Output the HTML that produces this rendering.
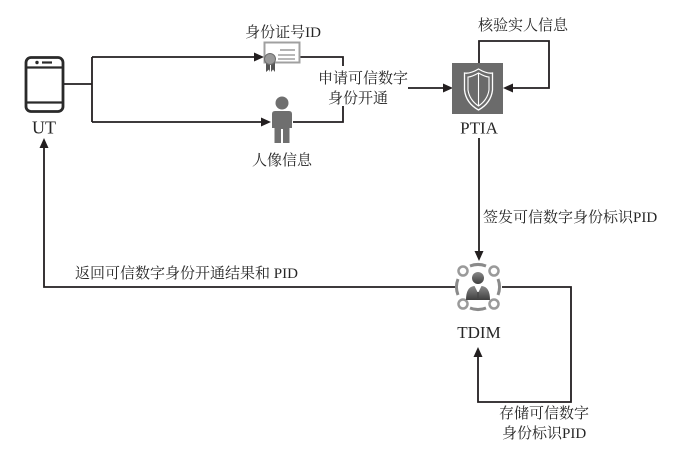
<!DOCTYPE html>
<html><head><meta charset="utf-8">
<style>
html,body{margin:0;padding:0;background:#fff;}
svg{display:block;}
text{font-family:"Liberation Serif","Noto Serif CJK SC","Noto Sans CJK SC",serif;fill:#262626;}
</style></head>
<body>
<svg width="687" height="455" viewBox="0 0 687 455" xmlns="http://www.w3.org/2000/svg">
<defs>
<linearGradient id="pg" x1="0" y1="0" x2="0" y2="1">
<stop offset="0" stop-color="#8a8a8a"/><stop offset="1" stop-color="#3e3e3e"/>
</linearGradient>
</defs>
<g fill="none" stroke="#231f20" stroke-width="1.8">
<polyline points="63,84 92,84"/>
<polyline points="92,57 92,122"/>
<polyline points="92,57 255,57"/>
<polyline points="92,122 262,122"/>
<polyline points="300,57 343,57 343,66"/>
<polyline points="293,122 343,122 343,106"/>
<polyline points="408,88 444,88"/>
<polyline points="479,63 479,41 549,41 549,88 511,88"/>
<polyline points="479,138 479,252"/>
<polyline points="455,287 44,287 44,146"/>
<polyline points="502,287 571,287 571,402 478,402 478,356"/>
</g>
<g fill="#231f20">
<polygon points="264,57 254,52.5 254,61.5"/>
<polygon points="271,122 261,117.5 261,126.5"/>
<polygon points="453,88 443,83.5 443,92.5"/>
<polygon points="503,88 513,83.5 513,92.5"/>
<polygon points="479,261 474.5,251 483.5,251"/>
<polygon points="44,138 39.5,148 48.5,148"/>
<polygon points="478,347 473.5,357 482.5,357"/>
</g>

<!-- phone -->
<rect x="26" y="57.5" width="37" height="54" rx="5" fill="none" stroke="#2a2a2a" stroke-width="2.8"/>
<line x1="26" y1="67.5" x2="63" y2="67.5" stroke="#2a2a2a" stroke-width="2.2"/>
<line x1="26" y1="102.5" x2="63" y2="102.5" stroke="#2a2a2a" stroke-width="2.2"/>
<circle cx="37" cy="62.5" r="1.7" fill="#2a2a2a"/>
<line x1="42" y1="62.5" x2="52" y2="62.5" stroke="#2a2a2a" stroke-width="2.2"/>

<!-- certificate -->
<rect x="264.5" y="42.5" width="35" height="20" fill="#fff" stroke="#a0a0a0" stroke-width="2"/>
<line x1="280" y1="50" x2="295" y2="50" stroke="#a0a0a0" stroke-width="1.6"/>
<line x1="278" y1="55" x2="295" y2="55" stroke="#a0a0a0" stroke-width="1.6"/>
<line x1="278" y1="59" x2="295" y2="59" stroke="#a0a0a0" stroke-width="1.6"/>
<polygon points="266,62 266,72 269,69.5 270,72 270,62" fill="#555"/>
<polygon points="271,62 271,72 273,69.5 275,72 275,62" fill="#555"/>
<circle cx="270" cy="59" r="5.5" fill="#999" stroke="#6e6e6e" stroke-width="1"/>

<!-- person -->
<circle cx="282" cy="103" r="6.5" fill="#6f6f6f"/>
<path d="M272,114 Q272,111 275,111 L289,111 Q292,111 292,114 L292,128 L289.5,128 L289.5,143 L283,143 L283,129 L281,129 L281,143 L274.5,143 L274.5,128 L272,128 Z" fill="#6f6f6f"/>

<!-- PTIA box -->
<rect x="452" y="63" width="51" height="51" fill="#6b6b6b"/>
<path d="M478.5,69 Q470,74 464.5,73 L464.5,90 Q466,103 478.5,110 Q491,103 492.5,90 L492.5,73 Q487,74 478.5,69 Z" fill="none" stroke="#fff" stroke-width="1.3"/>
<path d="M478.5,73 Q471.5,77 468,77 L468,90 Q469.5,100 478.5,106 Q487.5,100 489,90 L489,77 Q485.5,77 478.5,73 Z" fill="none" stroke="#fff" stroke-width="1.1"/>
<line x1="478.5" y1="73" x2="478.5" y2="106" stroke="#fff" stroke-width="1.1"/>

<!-- TDIM icon -->
<g fill="none" stroke="#8a8a8a" stroke-width="3">
<path d="M458,279 A22,22 0 0 0 458,295"/>
<path d="M498,279 A22,22 0 0 1 498,295"/>
<path d="M470,266 A22,22 0 0 1 486,266"/>
<path d="M470,308 A22,22 0 0 0 486,308"/>
</g>
<g fill="#fff" stroke="#9a9a9a" stroke-width="2.5">
<circle cx="463" cy="271" r="4.5"/>
<circle cx="494" cy="271" r="4.5"/>
<circle cx="463" cy="304" r="4.5"/>
<circle cx="494" cy="304" r="4.5"/>
</g>
<circle cx="478" cy="278" r="6" fill="url(#pg)"/>
<path d="M466,300 Q466,287 474,286 L482,286 Q490,287 490,300 Z" fill="url(#pg)"/>
<path d="M474.5,286 L478,293 L481.5,286 Z" fill="#fff"/>
<line x1="478" y1="292" x2="478" y2="298" stroke="#444" stroke-width="1.2"/>

<!-- labels -->
<text x="44" y="133.5" font-size="18" text-anchor="middle">UT</text>
<text x="479" y="133.5" font-size="17" text-anchor="middle">PTIA</text>
<text x="479" y="338" font-size="17" text-anchor="middle">TDIM</text>

<text x="283" y="37" font-size="15" text-anchor="middle">身份证号ID</text>
<text x="282" y="165" font-size="15" text-anchor="middle">人像信息</text>
<text x="318" y="83" font-size="15">申请可信数字</text>
<text x="328" y="103" font-size="15">身份开通</text>
<text x="478" y="30" font-size="15">核验实人信息</text>
<text x="483" y="222" font-size="15">签发可信数字身份标识PID</text>
<text x="75" y="278" font-size="15">返回可信数字身份开通结果和 PID</text>
<text x="499" y="418" font-size="15">存储可信数字</text>
<text x="502" y="438" font-size="15">身份标识PID</text>
</svg>
</body></html>
